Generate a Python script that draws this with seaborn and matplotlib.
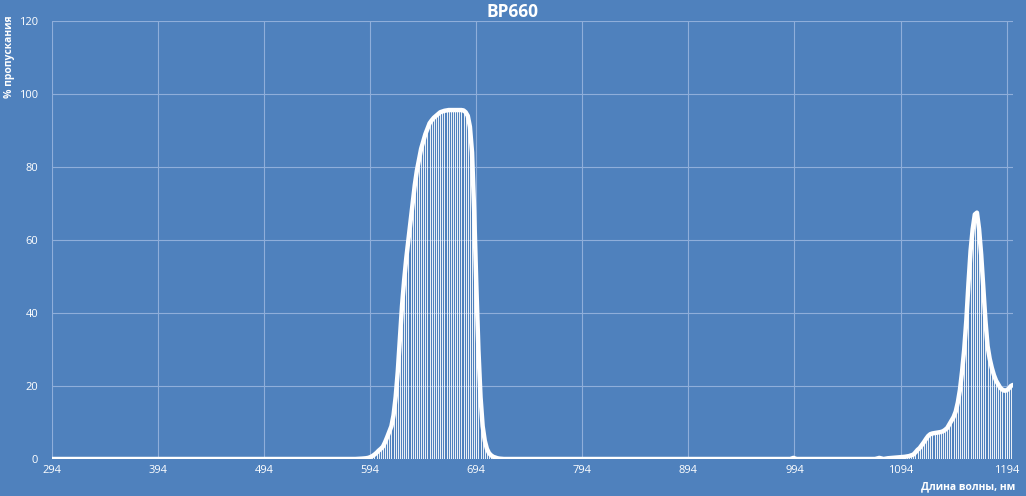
import numpy as np
import pandas as pd
import matplotlib
matplotlib.use("Agg")
import matplotlib.pyplot as plt
import seaborn as sns

# --- data ---
title = "BP660"
x_label = "Длина волны, нм"
y_label = "% пропускания"
x_ticks = [294, 394, 494, 594, 694, 794, 894, 994, 1094, 1194]
y_ticks = [0, 20, 40, 60, 80, 100, 120]

wl_base1 = [294, 350, 400, 450, 500, 550, 580, 586]
tr_base1 = [0, 0, 0, 0, 0, 0, 0, 0.1]

wl_peak1 = [590, 592, 594, 596, 598, 600, 602, 604, 606, 608, 610, 612, 614, 616, 618,
            620, 622, 624, 626, 628, 630, 632, 634, 636, 638, 640, 642, 644, 646, 648,
            650, 652, 654, 656, 658, 660, 662, 664, 666, 668, 670, 672, 674, 676, 678,
            680, 682, 684, 686, 688, 690, 692, 694, 696, 698, 700, 702, 704, 706, 708,
            710, 712, 714, 716]
tr_peak1 = [0.2, 0.3, 0.5, 0.8, 1.2, 1.7, 2.3, 2.8, 3.4, 4.6, 6.0, 7.5, 9.0, 12.0, 17.0,
            24.0, 33.0, 42.0, 49.0, 55.0, 60.0, 65.0, 70.0, 75.0, 79.0, 82.0, 85.0, 87.0, 89.0, 90.5,
            92.0, 92.8, 93.5, 94.0, 94.5, 95.0, 95.2, 95.4, 95.5, 95.6, 95.6, 95.6, 95.6, 95.6, 95.6,
            95.6, 95.5, 95.0, 94.0, 91.0, 84.0, 68.0, 48.0, 30.0, 17.0, 9.0, 5.0, 2.8, 1.6, 1.0,
            0.6, 0.4, 0.2, 0.1]

wl_base2 = [720, 760, 800, 850, 900, 950, 990, 993, 996, 1000, 1040, 1070, 1074, 1078]
tr_base2 = [0, 0, 0, 0, 0, 0, 0, 0.3, 0, 0, 0, 0, 0.3, 0]

wl_peak2 = [1082, 1086, 1090, 1094, 1098, 1100, 1102, 1104, 1106, 1108, 1110, 1112, 1114,
            1116, 1118, 1120, 1122, 1124, 1126, 1128, 1130, 1132, 1134, 1136, 1138, 1140,
            1142, 1144, 1146, 1148, 1150, 1152, 1154, 1156, 1158, 1160, 1162, 1164, 1166,
            1168, 1170, 1172, 1174, 1176, 1178, 1180, 1182, 1184, 1186, 1188, 1190, 1192,
            1194, 1196, 1198, 1200]
tr_peak2 = [0.2, 0.3, 0.4, 0.5, 0.6, 0.7, 0.8, 1.0, 1.2, 1.8, 2.5, 3.0, 3.8,
            4.6, 5.5, 6.3, 6.8, 7.0, 7.1, 7.2, 7.3, 7.4, 7.6, 8.0, 8.5, 9.5,
            10.5, 11.5, 13.0, 15.5, 19.0, 24.0, 30.0, 38.0, 48.0, 57.0, 63.0, 67.0, 67.5,
            63.0, 56.0, 47.0, 38.0, 31.0, 27.5, 25.0, 23.0, 21.5, 20.5, 19.5, 19.0, 18.7,
            18.8, 19.3, 20.0, 20.3]

df = pd.DataFrame({
    "wl": wl_base1 + wl_peak1 + wl_base2 + wl_peak2,
    "tr": tr_base1 + tr_peak1 + tr_base2 + tr_peak2,
})

# --- style ---
bg = "#4F81BD"
grid_c = "#8FAEDA"
sns.set_theme(style="darkgrid")
plt.rcParams["font.family"] = ["Open Sans", "DejaVu Sans"]

fig = plt.figure(figsize=(10.26, 4.96), dpi=100, facecolor=bg)
ax = fig.add_axes([52 / 1026, 1 - 459 / 496, (1013 - 52) / 1026, (459 - 21) / 496])
ax.set_facecolor(bg)

# drop lines
ax.vlines(df["wl"], 0, df["tr"], colors="white", linewidth=0.7, alpha=0.9, zorder=2)
sns.lineplot(data=df, x="wl", y="tr", ax=ax, color="white", linewidth=3.2,
             zorder=3, solid_joinstyle="round", solid_capstyle="round")

ax.set_xlim(294, 1200)
ax.set_ylim(0, 120)
ax.set_xticks(x_ticks)
ax.set_yticks(y_ticks)
ax.grid(True, color=grid_c, linewidth=0.8)
for s in ax.spines.values():
    s.set_visible(False)
ax.tick_params(axis="both", colors="white", labelsize=8, length=0, pad=4)
ax.tick_params(axis="y", pad=10)
ax.set_xlabel("")
ax.set_ylabel("")

fig.text(513 / 1026, 1 - 12 / 496, title, color="white", fontsize=12.5,
         fontweight="bold", ha="center", va="center")
fig.text(10 / 1026, 1 - 57 / 496, y_label, color="white", fontsize=7.5,
         fontweight="bold", rotation=90, ha="center", va="center")
fig.text(1015 / 1026, 1 - 487 / 496, x_label, color="white", fontsize=7.5,
         fontweight="bold", ha="right", va="center")

fig.savefig("out.png", dpi=100, facecolor=bg)
